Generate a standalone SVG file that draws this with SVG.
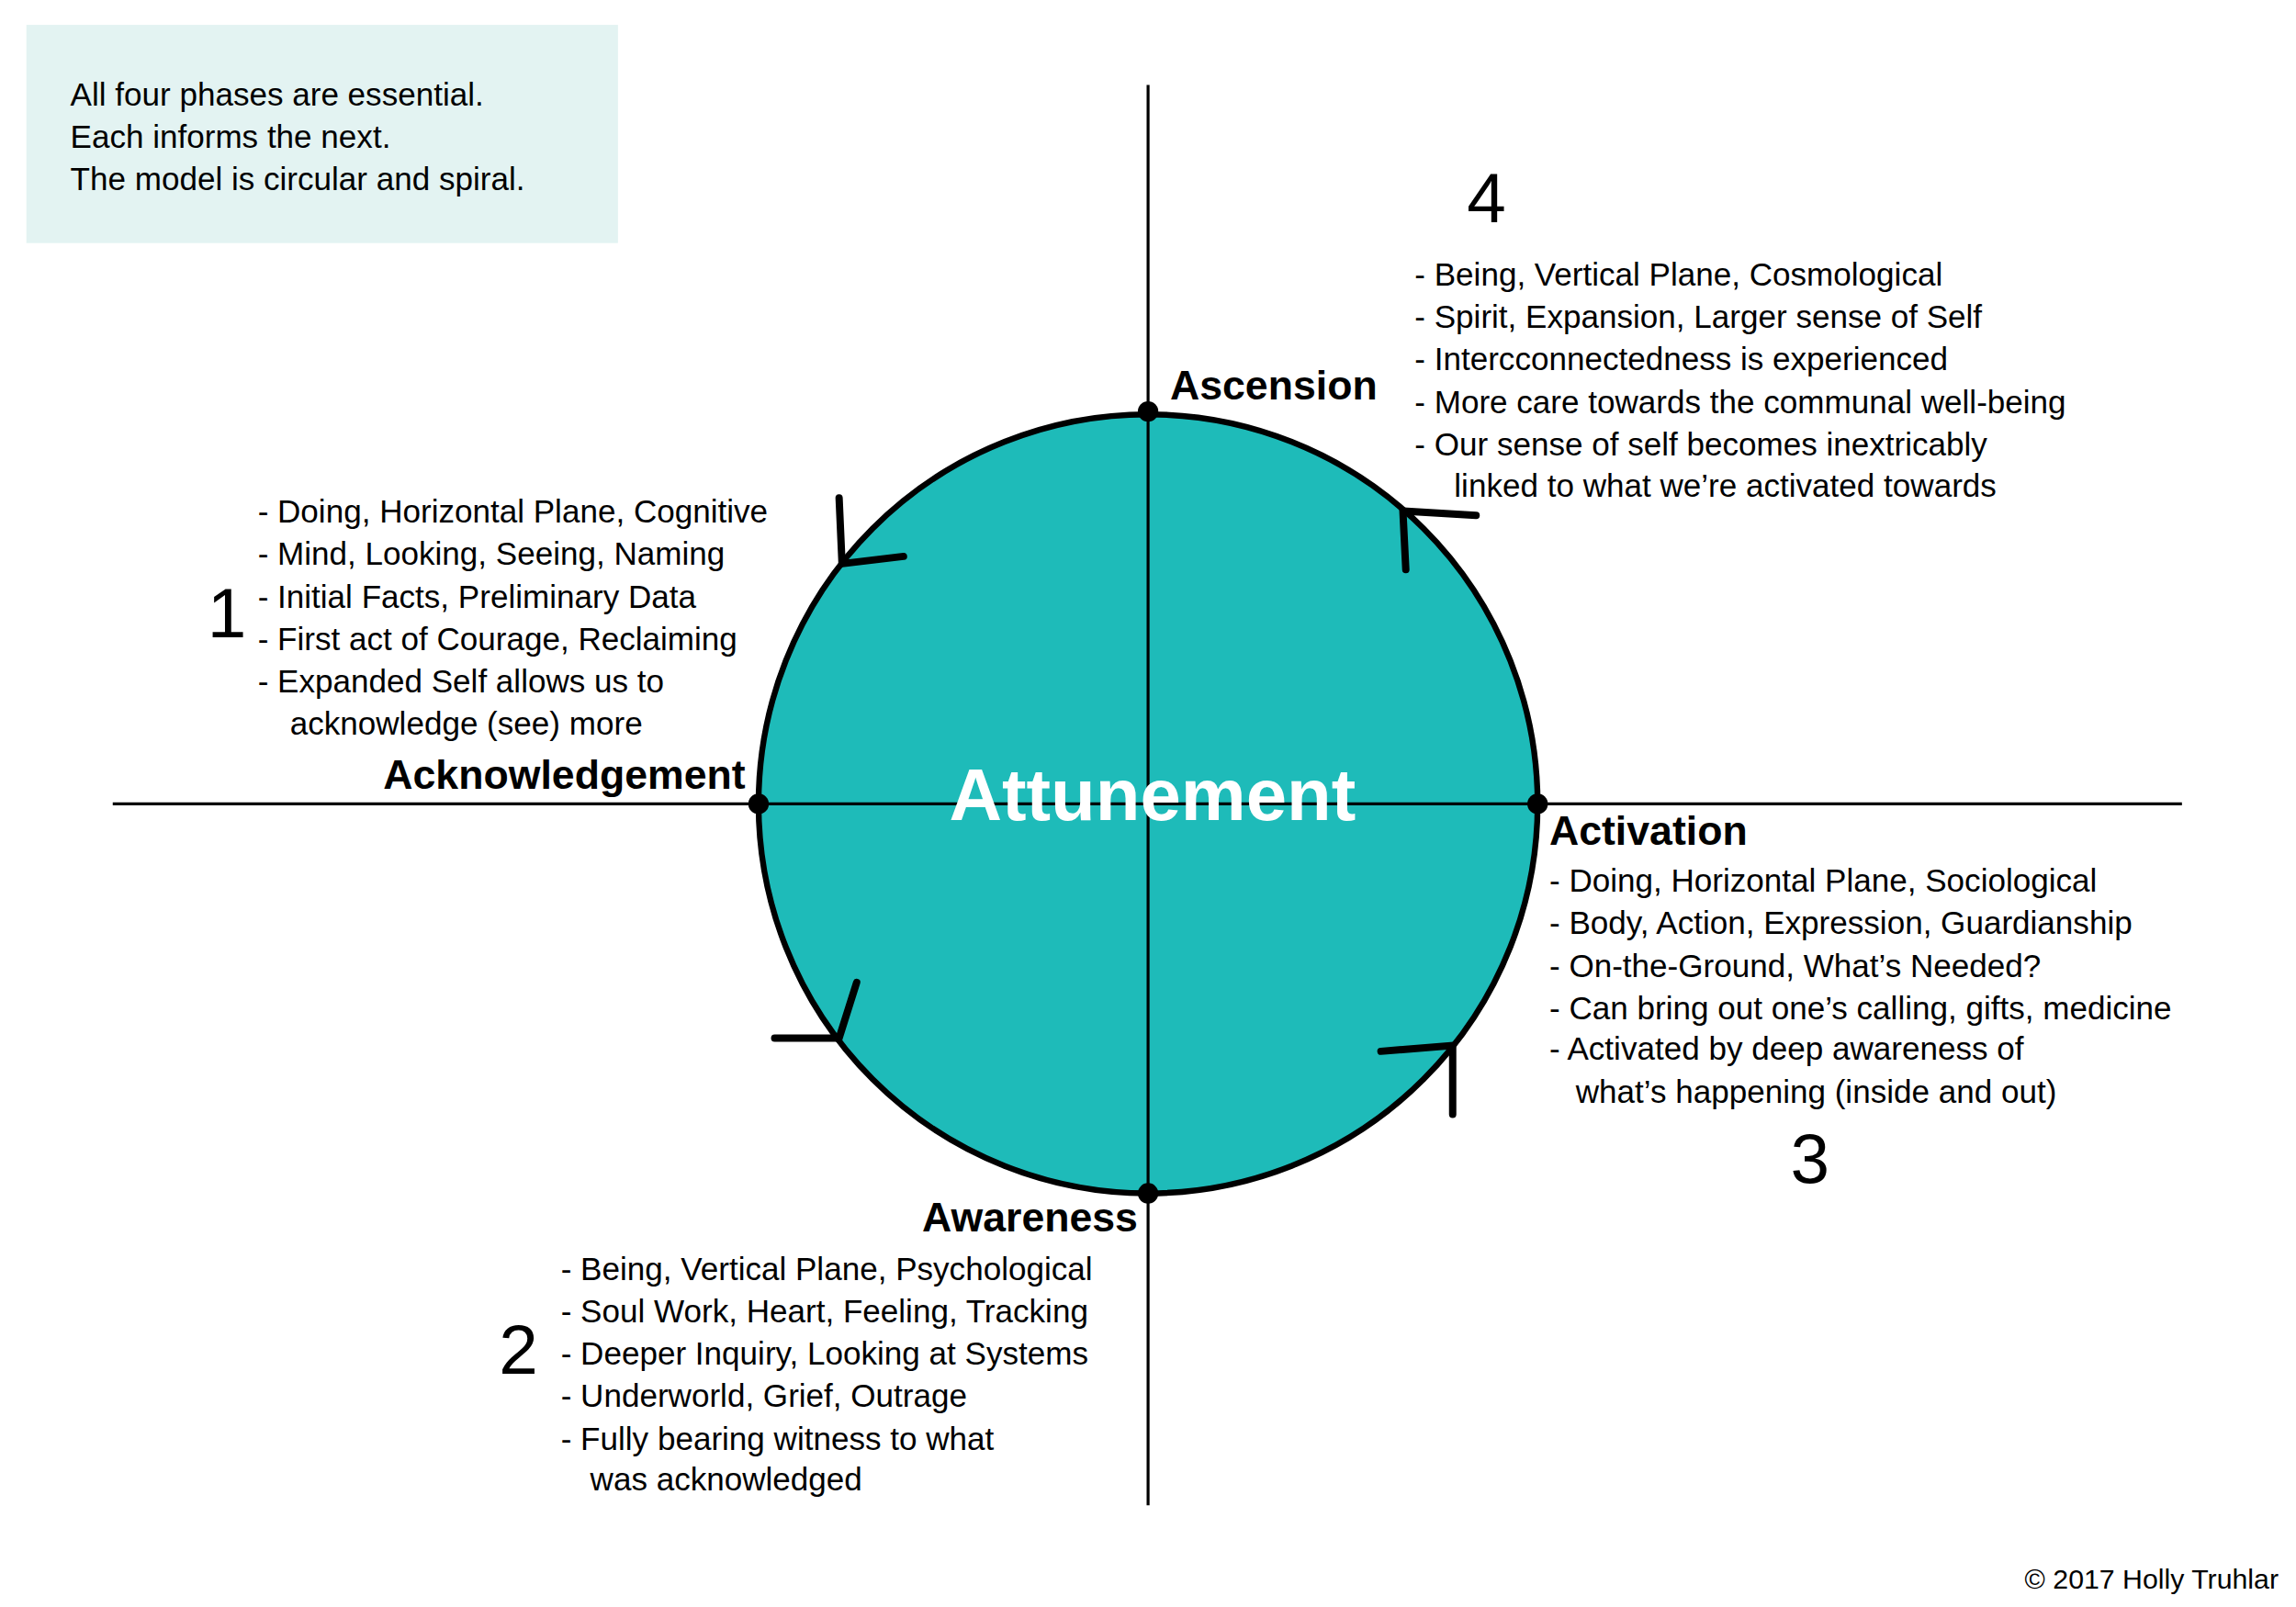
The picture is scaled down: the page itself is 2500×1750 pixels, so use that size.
<svg xmlns="http://www.w3.org/2000/svg" width="2500" height="1750" viewBox="0 0 2500 1750">
<style>
text{font-family:"Liberation Sans",Arial,sans-serif;fill:#000}
.t{font-size:22px}
.h{font-size:28px;font-weight:bold}
.n{font-size:48px}
.ax{stroke:#000;stroke-width:2}
.mk{stroke:#000;stroke-width:5;fill:none;stroke-linecap:round}
</style>
<rect width="2500" height="1750" fill="#fff"/>
<g transform="scale(1.5945)">
<g id="note">
<rect x="18" y="17" width="404" height="149" fill="#e3f3f2"/>
<text class="t" x="48" y="72">All four phases are essential.</text>
<text class="t" x="48" y="101">Each informs the next.</text>
<text class="t" x="48" y="130">The model is circular and spiral.</text>
</g>
<g id="connectors">
<line class="ax" x1="784" y1="58" x2="784" y2="1028"/>
<line class="ax" x1="77" y1="549" x2="1490" y2="549"/>
</g>
<g id="attunement">
<circle cx="784" cy="549" r="266" fill="#1ebbb9" stroke="#000" stroke-width="4"/>
<line x1="784" y1="283" x2="784" y2="815" stroke="#000" stroke-width="2"/>
<line x1="518" y1="549" x2="1050" y2="549" stroke="#000" stroke-width="2"/>
<text x="787" y="560" text-anchor="middle" style="font-size:50px;font-weight:bold;fill:#fff">Attunement</text>
</g>
<g id="arrows">
<polyline class="mk" points="573,340 575,385 617,380"/>
<polyline class="mk" points="1008,352 958,349 960,389"/>
<polyline class="mk" points="943,718 992,714 992,761"/>
<polyline class="mk" points="529,709 573,709 585,671"/>
</g>
<g id="dots">
<circle cx="784" cy="281" r="7"/><circle cx="518" cy="549" r="7"/>
<circle cx="1050" cy="549" r="7"/><circle cx="784" cy="815" r="7"/>
</g>
<g id="ascension">
<text class="h" x="799" y="273">Ascension</text>
<text class="n" x="1015" y="152" text-anchor="middle">4</text>
<text class="t" x="966" y="195">- Being, Vertical Plane, Cosmological</text>
<text class="t" x="966" y="224">- Spirit, Expansion, Larger sense of Self</text>
<text class="t" x="966" y="253">- Intercconnectedness is experienced</text>
<text class="t" x="966" y="282">- More care towards the communal well-being</text>
<text class="t" x="966" y="311">- Our sense of self becomes inextricably</text>
<text class="t" x="993" y="339">linked to what we’re activated towards</text>
</g>
<g id="acknowledgement">
<text class="h" x="509" y="539" text-anchor="end">Acknowledgement</text>
<text class="n" x="155" y="435" text-anchor="middle">1</text>
<text class="t" x="176" y="357">- Doing, Horizontal Plane, Cognitive</text>
<text class="t" x="176" y="386">- Mind, Looking, Seeing, Naming</text>
<text class="t" x="176" y="415">- Initial Facts, Preliminary Data</text>
<text class="t" x="176" y="444">- First act of Courage, Reclaiming</text>
<text class="t" x="176" y="473">- Expanded Self allows us to</text>
<text class="t" x="198" y="502">acknowledge (see) more</text>
</g>
<g id="activation">
<text class="h" x="1058" y="577">Activation</text>
<text class="t" x="1058" y="609">- Doing, Horizontal Plane, Sociological</text>
<text class="t" x="1058" y="638">- Body, Action, Expression, Guardianship</text>
<text class="t" x="1058" y="667">- On-the-Ground, What’s Needed?</text>
<text class="t" x="1058" y="696">- Can bring out one’s calling, gifts, medicine</text>
<text class="t" x="1058" y="724">- Activated by deep awareness of</text>
<text class="t" x="1076" y="753">what’s happening (inside and out)</text>
<text class="n" x="1236" y="808" text-anchor="middle">3</text>
</g>
<g id="awareness">
<text class="h" x="777" y="841" text-anchor="end">Awareness</text>
<text class="n" x="354" y="938" text-anchor="middle">2</text>
<text class="t" x="383" y="874">- Being, Vertical Plane, Psychological</text>
<text class="t" x="383" y="903">- Soul Work, Heart, Feeling, Tracking</text>
<text class="t" x="383" y="932">- Deeper Inquiry, Looking at Systems</text>
<text class="t" x="383" y="961">- Underworld, Grief, Outrage</text>
<text class="t" x="383" y="990">- Fully bearing witness to what</text>
<text class="t" x="403" y="1018">was acknowledged</text>
</g>
<text x="1556" y="1085" text-anchor="end" style="font-size:19px">© 2017 Holly Truhlar</text>
</g>
</svg>
